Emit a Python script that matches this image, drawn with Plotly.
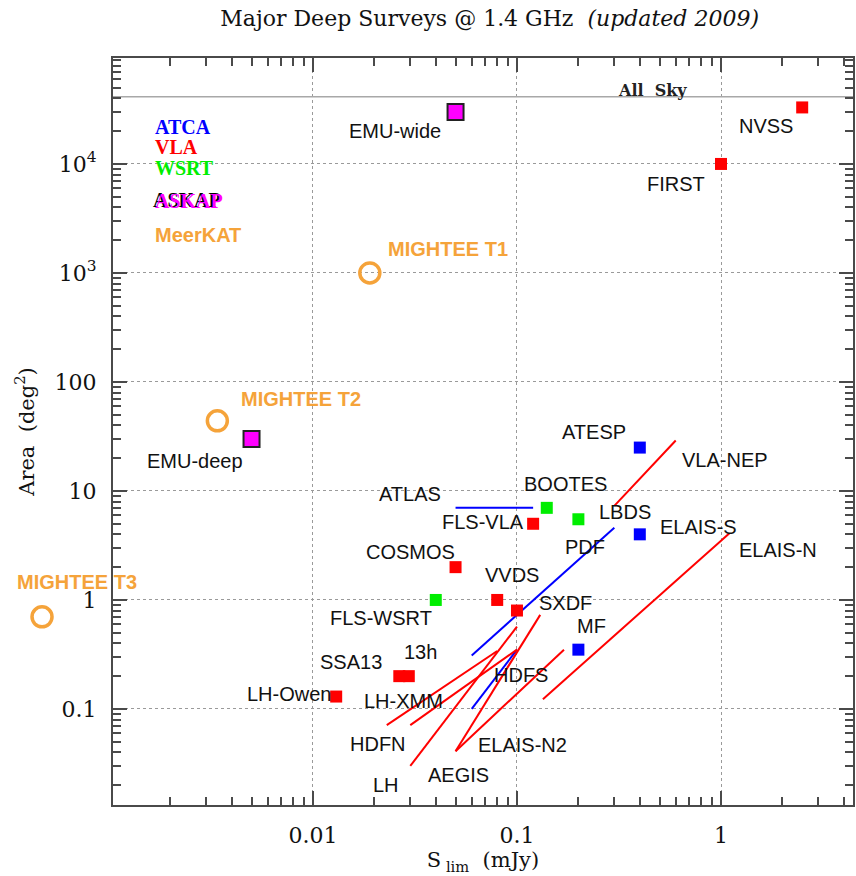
import math
import plotly.graph_objects as go

# ---------------- survey data: S_lim (mJy) and area (deg^2) ----------------
# ATCA (blue)
atca_names = ["ATESP", "ELAIS-S", "MF"]
atca_slim = [0.4, 0.4, 0.2]
atca_area = [25, 4, 0.35]

# VLA (red)
vla_names = ["NVSS", "FIRST", "FLS-VLA", "COSMOS", "VVDS", "SXDF", "SSA13", "13h", "LH-Owen"]
vla_slim = [2.5, 1.0, 0.12, 0.05, 0.08, 0.1, 0.0265, 0.0295, 0.013]
vla_area = [33000, 10000, 5, 2, 1, 0.8, 0.2, 0.2, 0.13]

# WSRT (green)
wsrt_names = ["BOOTES", "LBDS", "FLS-WSRT"]
wsrt_slim = [0.14, 0.2, 0.04]
wsrt_area = [7, 5.5, 1]

# ASKAP (magenta)
askap_names = ["EMU-wide", "EMU-deep"]
askap_slim = [0.05, 0.005]
askap_area = [30000, 30]

# MeerKAT (orange)
meerkat_names = ["MIGHTEE T1", "MIGHTEE T2", "MIGHTEE T3"]
meerkat_slim = [0.019, 0.0034, 0.00047]
meerkat_area = [1000, 44, 0.7]

# Surveys spanning a range of depths: (start, end) pairs
atca_range_names = ["ATLAS", "PDF", "HDFS"]
atca_range_slim = [(0.05, 0.12), (0.06, 0.3), (0.06, 0.1)]
atca_range_area = [(7, 7), (0.31, 4.6), (0.1, 0.35)]

vla_range_names = ["HDFN", "LH-XMM", "LH", "AEGIS", "ELAIS-N2", "VLA-NEP", "ELAIS-N"]
vla_range_slim = [(0.023, 0.08), (0.03, 0.1), (0.03, 0.1), (0.05, 0.13),
                  (0.05, 0.17), (0.3, 0.6), (0.134, 1.1)]
vla_range_area = [(0.071, 0.34), (0.071, 0.35), (0.03, 0.57), (0.041, 0.73),
                  (0.041, 0.35), (7.3, 29), (0.123, 4.1)]

ALL_SKY = 41253  # deg^2

# ---------------- tick labels ----------------
x_tickvals = [0.01, 0.1, 1]
x_ticktext = ["0.01", "0.1", "1"]
y_tickvals = [0.1, 1, 10, 100, 1000, 10000]
y_ticktext = ["0.1", "1", "10", "100", "10<sup>3</sup>", "10<sup>4</sup>"]

BLUE = "#0000FF"
RED = "#FF0000"
GREEN = "#00EE00"
MAGENTA = "#FF00FF"
ORANGE = "#F5A33A"
AXIS = "#4a4a4a"
SANS = "Liberation Sans, Arial, sans-serif"
SERIF = "DejaVu Serif, serif"

# page geometry: the framed axes start 113 px from the left edge
W, H = 856, 876
M_L, M_R, M_T, M_B = 113, 3, 58, 71
X_RANGE = [-2.980, 0.647]          # log10 mJy
Y_RANGE = [-1.881, 4.972]          # log10 deg^2
# a wider helper axis covering the left margin as well, same scale
frame_w = W - M_L - M_R
per_px = (X_RANGE[1] - X_RANGE[0]) / frame_w
X2_RANGE = [X_RANGE[0] - M_L * per_px, X_RANGE[1]]
X_DOMAIN = [M_L / (W - M_R), 1]


def segments(pairs_x, pairs_y):
    xs, ys = [], []
    for (x0, x1), (y0, y1) in zip(pairs_x, pairs_y):
        xs += [x0, x1, None]
        ys += [y0, y1, None]
    return xs, ys


fig = go.Figure()

# all-sky limit
fig.add_trace(go.Scatter(x=[10 ** X_RANGE[0], 10 ** X_RANGE[1]], y=[ALL_SKY, ALL_SKY],
                         mode="lines", line=dict(color="#a8a8a8", width=1.5),
                         hoverinfo="skip", showlegend=False))

# range segments
sx, sy = segments(atca_range_slim, atca_range_area)
fig.add_trace(go.Scatter(x=sx, y=sy, mode="lines", line=dict(color=BLUE, width=2),
                         name="ATCA ranges", showlegend=False))
sx, sy = segments(vla_range_slim, vla_range_area)
fig.add_trace(go.Scatter(x=sx, y=sy, mode="lines", line=dict(color=RED, width=2),
                         name="VLA ranges", showlegend=False))

# single-depth surveys
for names, xs, ys, col in [(atca_names, atca_slim, atca_area, BLUE),
                           (vla_names, vla_slim, vla_area, RED),
                           (wsrt_names, wsrt_slim, wsrt_area, GREEN)]:
    fig.add_trace(go.Scatter(x=xs, y=ys, mode="markers", text=names,
                             marker=dict(symbol="square", size=12, color=col,
                                         line=dict(width=0)),
                             showlegend=False))

fig.add_trace(go.Scatter(x=askap_slim, y=askap_area, mode="markers", text=askap_names,
                         marker=dict(symbol="square", size=16, color=MAGENTA,
                                     line=dict(width=2, color="#222222")),
                         showlegend=False))

# MeerKAT tiers on the wide helper axes so the shallowest-flux tier can sit left of the frame
fig.add_trace(go.Scatter(x=meerkat_slim, y=meerkat_area, mode="markers", text=meerkat_names,
                         xaxis="x2", yaxis="y2",
                         marker=dict(symbol="circle-open", size=20, color=ORANGE,
                                     line=dict(width=3.5, color=ORANGE)),
                         showlegend=False))

# ---------------- survey labels ----------------
labels = [
    ("NVSS", 1.66, 22300), ("FIRST", 0.60, 6560), ("EMU-wide", 0.0252, 20100),
    ("EMU-deep", 0.00264, 18.8), ("ATESP", 0.238, 34.8), ("VLA-NEP", 1.047, 19.3),
    ("BOOTES", 0.172, 11.6), ("ATLAS", 0.0298, 9.38), ("FLS-VLA", 0.068, 5.2),
    ("LBDS", 0.338, 6.42), ("ELAIS-S", 0.78, 4.68), ("PDF", 0.215, 3.06),
    ("ELAIS-N", 1.90, 2.87), ("COSMOS", 0.0302, 2.76), ("VVDS", 0.0944, 1.69),
    ("SXDF", 0.172, 0.939), ("FLS-WSRT", 0.0215, 0.684), ("MF", 0.233, 0.577),
    ("13h", 0.0338, 0.333), ("SSA13", 0.0153, 0.270), ("HDFS", 0.105, 0.205),
    ("LH-Owen", 0.00763, 0.137), ("LH-XMM", 0.0279, 0.118), ("HDFN", 0.0208, 0.0477),
    ("ELAIS-N2", 0.107, 0.0467), ("AEGIS", 0.0514, 0.0248), ("LH", 0.0228, 0.0201),
]
L = math.log10
annotations = []
for txt, lx, ly in labels:
    annotations.append(dict(x=L(lx), y=L(ly), xref="x", yref="y", text=txt, showarrow=False,
                            xanchor="center", yanchor="middle",
                            font=dict(family=SANS, size=20, color="#111111")))

for txt, lx, ly in [("MIGHTEE T1", 0.0459, 1660), ("MIGHTEE T2", 0.00873, 69.8),
                    ("MIGHTEE T3", 0.000697, 1.46)]:
    annotations.append(dict(x=L(lx), y=L(ly), xref="x2", yref="y2", text="<b>%s</b>" % txt,
                            showarrow=False, xanchor="center", yanchor="middle",
                            font=dict(family=SANS, size=20, color=ORANGE)))

annotations.append(dict(x=L(0.464), y=L(46800), xref="x", yref="y", text="<b>All  Sky</b>",
                        showarrow=False, xanchor="center", yanchor="middle",
                        font=dict(family=SERIF, size=16, color="#222222")))

# facility key
key_x = L(0.00164)
key_font = "Liberation Serif, serif"
for txt, ky, col in [("ATCA", 21800, BLUE), ("VLA", 14300, RED), ("WSRT", 9190, GREEN)]:
    annotations.append(dict(x=key_x, y=L(ky), xref="x", yref="y", text="<b>%s</b>" % txt,
                            showarrow=False, xanchor="left", yanchor="middle",
                            font=dict(family=key_font, size=20, color=col)))
annotations.append(dict(x=key_x, y=L(4580), xref="x", yref="y", text="<b>ASKAP</b>",
                        showarrow=False, xanchor="left", yanchor="middle", xshift=-2, yshift=1,
                        font=dict(family=key_font, size=20, color="#000000")))
annotations.append(dict(x=key_x, y=L(4580), xref="x", yref="y", text="<b>ASKAP</b>",
                        showarrow=False, xanchor="left", yanchor="middle",
                        font=dict(family=key_font, size=20, color=MAGENTA)))
annotations.append(dict(x=key_x, y=L(2230), xref="x", yref="y", text="<b>MeerKAT</b>",
                        showarrow=False, xanchor="left", yanchor="middle",
                        font=dict(family=SANS, size=20, color=ORANGE)))


def minor_vals(lo, hi):
    vals = []
    for e in range(-4, 6):
        for k in range(2, 10):
            v = k * 10 ** e
            if lo < v < hi:
                vals.append(v)
    return vals


common_axis = dict(type="log", showline=True, linecolor=AXIS, linewidth=2, mirror="ticks",
                   ticks="inside", ticklen=14, tickwidth=1.5, tickcolor=AXIS,
                   showgrid=True, gridcolor="#9a9a9a", griddash="dot", gridwidth=1,
                   zeroline=False, tickmode="array", ticklabelstandoff=10, automargin=False,
                   tickfont=dict(family=SERIF, size=22, color="#111111"))

fig.update_layout(
    width=W, height=H,
    margin=dict(l=0, r=M_R, t=M_T, b=M_B),
    paper_bgcolor="white", plot_bgcolor="rgba(0,0,0,0)",
    showlegend=False,
    title=dict(text="Major Deep Surveys @ 1.4 GHz  <i>(updated 2009)</i>",
               x=0.572, xref="container", xanchor="center",
               y=0.979, yref="container", yanchor="middle",
               font=dict(family=SERIF, size=22, color="#111111")),
    annotations=annotations,
    xaxis2=dict(type="log", range=X2_RANGE, domain=[0, 1], anchor="y2", visible=False),
    yaxis2=dict(type="log", range=Y_RANGE, domain=[0, 1], anchor="x2", visible=False),
)
fig.layout.xaxis.update(range=X_RANGE, domain=X_DOMAIN, tickvals=x_tickvals, ticktext=x_ticktext,
                        minor=dict(tickmode="array",
                                   tickvals=minor_vals(10 ** X_RANGE[0], 10 ** X_RANGE[1]),
                                   ticks="inside", ticklen=8, tickwidth=1.5, tickcolor=AXIS,
                                   showgrid=False),
                        title=dict(text="S<sub> lim</sub>  (mJy)", standoff=4,
                                   font=dict(family=SERIF, size=21, color="#111111")),
                        **common_axis)
fig.layout.yaxis.update(range=Y_RANGE, domain=[0, 1], tickvals=y_tickvals, ticktext=y_ticktext,
                        minor=dict(tickmode="array",
                                   tickvals=minor_vals(10 ** Y_RANGE[0], 10 ** Y_RANGE[1]),
                                   ticks="inside", ticklen=8, tickwidth=1.5, tickcolor=AXIS,
                                   showgrid=False),
                        title=dict(text="Area  (deg<sup>2</sup>)", standoff=14,
                                   font=dict(family=SERIF, size=21, color="#111111")),
                        **common_axis)

fig.write_html("out.html")
